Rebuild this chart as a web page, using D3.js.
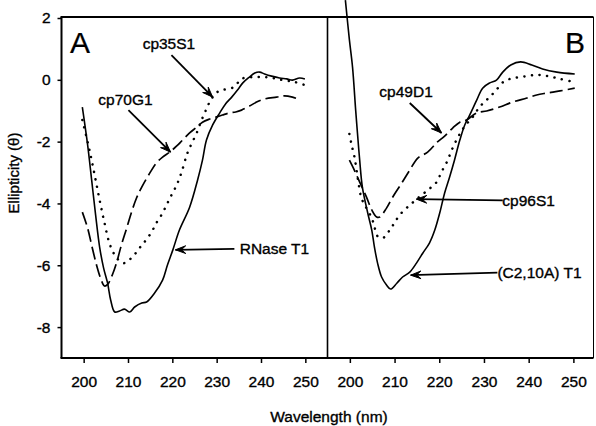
<!DOCTYPE html>
<html>
<head>
<meta charset="utf-8">
<script src="https://cdn.jsdelivr.net/npm/d3@7"></script>
<style>
  body { margin: 0; background: #fff; }
  text { font-family: "Liberation Sans", Arial, Helvetica, sans-serif; fill: #000; stroke: #000; stroke-width: 0.35px; }
</style>
</head>
<body>
<div id="chart"></div>
<script>
// tick labels
var wlTicks = [200, 210, 220, 230, 240, 250];
var ellTicks = [2, 0, -2, -4, -6, -8];

// panel A series [wavelength nm, ellipticity]
var rnaseT1 = [[199.7,-0.88],[200.9,-2.11],[201.8,-3.24],[202.7,-4.38],[203.6,-5.41],[204.5,-6.09],[205.4,-6.58],[206.1,-7.13],[207,-7.51],[208.1,-7.48],[209.2,-7.42],[210.4,-7.51],[211.5,-7.35],[213.1,-7.22],[214.2,-7.19],[216,-6.9],[217.8,-6.48],[218.9,-5.99],[220.1,-5.51],[221.6,-4.86],[223.9,-4.12],[225.7,-3.24],[226.8,-2.6],[227.7,-1.95],[229.1,-1.46],[230.7,-1.07],[232,-0.78],[233.4,-0.56],[234.7,-0.33],[235.9,-0.1],[237.4,0.09],[238.6,0.22],[239.7,0.25],[240.8,0.19],[242.4,0.12],[244.2,0.06],[245.8,0.03],[247.1,-0.01],[248.7,0.06],[249.9,0.03]];
var cp35S1 = [[199.7,-1.3],[200.9,-2.01],[201.8,-2.6],[202.7,-3.24],[203.6,-3.89],[204.7,-4.63],[205.8,-5.28],[207,-5.67],[208.1,-5.86],[209.2,-5.93],[211,-5.73],[212.6,-5.44],[213.7,-5.25],[215.3,-4.93],[216.4,-4.63],[217.8,-4.31],[218.7,-4.05],[219.8,-3.73],[221,-3.4],[222.1,-2.98],[223.4,-2.37],[224.4,-2.05],[225.5,-1.72],[226.4,-1.37],[227.3,-1.07],[228.2,-0.78],[229.1,-0.56],[230.2,-0.39],[231.3,-0.33],[233.4,-0.27],[234.5,-0.14],[235.6,0.03],[238.1,0.09],[240.4,0.09],[242.6,0.06],[244.9,-0.01],[247.6,-0.07],[249.9,-0.17]];
var cp70G1 = [[199.7,-4.28],[200.9,-4.8],[201.8,-5.35],[202.9,-5.99],[203.8,-6.41],[204.7,-6.67],[205.4,-6.62],[206.5,-6.3],[207.4,-5.93],[208.5,-5.35],[209.7,-4.8],[210.8,-4.28],[211.9,-3.83],[213.1,-3.47],[214.9,-3.02],[216.4,-2.69],[217.8,-2.5],[219.4,-2.34],[221,-2.14],[222.3,-1.95],[223.9,-1.72],[225.5,-1.53],[226.8,-1.37],[228.4,-1.27],[230,-1.2],[231.3,-1.14],[232.9,-1.07],[234.3,-1.04],[235.6,-0.98],[237.4,-0.85],[239,-0.72],[240.8,-0.62],[243.5,-0.56],[245.3,-0.52],[247.1,-0.56],[249,-0.65]];

// panel B series
var c210aT1 = [[199.0,2.58],[199.9,1.29],[200.6,0.41],[201.3,-0.98],[201.7,-1.72],[202.2,-2.6],[202.8,-3.47],[204,-4.31],[204.9,-4.86],[205.5,-5.41],[206.2,-5.93],[207.1,-6.38],[208.2,-6.64],[209.1,-6.77],[210.5,-6.58],[211.8,-6.38],[213.4,-6.22],[214.9,-5.93],[216.3,-5.61],[217.8,-5.28],[219,-4.86],[220.1,-4.31],[221.2,-3.66],[222.3,-3.15],[223.4,-2.6],[224.6,-1.95],[225.7,-1.46],[226.8,-1.14],[228.4,-0.65],[229.7,-0.27],[231.3,-0.1],[232.8,-0.01],[234.2,0.25],[236,0.48],[238.2,0.58],[240.7,0.48],[243.1,0.35],[246.3,0.25],[250.3,0.19]];
var cp96S1 = [[199.9,-1.75],[200.4,-2.11],[201,-2.47],[201.5,-2.92],[202,-3.4],[202.6,-3.83],[203.7,-4.15],[204.9,-4.47],[205.5,-4.76],[206.2,-5.06],[207.1,-5.12],[208,-5.06],[208.9,-4.86],[209.8,-4.67],[211.1,-4.38],[212.9,-4.12],[215.2,-3.83],[217.4,-3.57],[219.4,-3.31],[220.5,-2.98],[221.7,-2.66],[222.8,-2.27],[224.1,-1.88],[225.7,-1.5],[227.5,-1.2],[229,-0.88],[230.6,-0.65],[232.4,-0.39],[234.6,-0.04],[236.9,0.06],[239.6,0.12],[242,0.16],[244.3,0.12],[247,0.03],[249.2,-0.04]];
var cp49D1 = [[199.9,-2.6],[201,-2.92],[202.2,-3.31],[203.7,-3.79],[204.9,-4.21],[206,-4.44],[206.7,-4.44],[208.2,-4.15],[209.6,-3.79],[211.6,-3.34],[213.4,-2.92],[215.2,-2.53],[217.4,-2.34],[219.6,-2.01],[221.2,-1.82],[223,-1.56],[224.6,-1.37],[226.1,-1.3],[228.4,-1.07],[230.6,-1.01],[233.5,-0.88],[236.4,-0.72],[239.6,-0.59],[241.8,-0.49],[244,-0.43],[247,-0.36],[250.3,-0.27]];

// labels with arrow: text start, arrow tail, arrow tip (data units)
var notesA = [
  { text: "cp35S1", at: [213.3, 1.19], from: [219.8, 0.8], to: [229.1, -0.56] },
  { text: "cp70G1", at: [203.3, -0.65], from: [210.1, -0.98], to: [219.6, -2.34] },
  { text: "RNase T1", at: [235.2, -5.44], from: [234, -5.47], to: [220.7, -5.5] }
];
var notesB = [
  { text: "cp49D1", at: [206.6, -0.39], from: [213.4, -0.75], to: [220.5, -1.72] },
  { text: "cp96S1", at: [234.1, -3.9], from: [234.2, -3.9], to: [214.9, -3.86] },
  { text: "(C2,10A) T1", at: [233, -6.24], from: [233, -6.24], to: [213.6, -6.32] }
];

var width = 596, height = 426;
var svg = d3.select("#chart").append("svg")
    .attr("width", width)
    .attr("height", height);

var y = d3.scaleLinear().domain([-9, 2]).range([358, 18]);
var xA = d3.scaleLinear().domain([195, 255]).range([61.5, 327.5]);
var xB = d3.scaleLinear().domain([195, 254.5]).range([327.5, 593.5]);

var styles = {
  solid: { width: 1.6, dash: null, cap: "butt" },
  dashed: { width: 1.7, dash: "13,5", cap: "butt" },
  dotted: { width: 2.5, dash: "0.1,7.5", cap: "round" }
};

function drawPanel(x, series, notes, letter, letterX, leftAxis, rightEdge) {
  var g = svg.append("g");
  var x0 = x.range()[0], x1 = x.range()[1];

  // frame
  g.append("line").attr("x1", x0 - 1).attr("x2", x1).attr("y1", y(2) - 1).attr("y2", y(2) - 1)
    .attr("stroke", "#000").attr("stroke-width", 2);
  g.append("line").attr("x1", x0 - 1).attr("x2", x1).attr("y1", y(-9)).attr("y2", y(-9))
    .attr("stroke", "#000").attr("stroke-width", 2);
  if (leftAxis) {
    g.append("line").attr("x1", x0).attr("x2", x0).attr("y1", y(2) - 1).attr("y2", y(-9))
      .attr("stroke", "#000").attr("stroke-width", 2);
  }
  g.append("line").attr("x1", x1).attr("x2", x1).attr("y1", y(2) - 1).attr("y2", y(-9))
    .attr("stroke", "#000").attr("stroke-width", rightEdge);

  // x axis
  var ax = g.append("g").attr("transform", "translate(0," + y(-9) + ")")
    .call(d3.axisBottom(x).tickValues(wlTicks).tickSize(5).tickPadding(13).tickFormat(function(d) { return String(d); }));
  ax.select(".domain").remove();
  ax.selectAll("line").attr("stroke-width", 1.5);
  ax.selectAll("text").style("font-size", "15.5px");

  if (leftAxis) {
    var ay = g.append("g").attr("transform", "translate(" + x0 + ",0)")
      .call(d3.axisLeft(y).tickValues(ellTicks).tickSize(4).tickPadding(7).tickFormat(function(d) { return String(d); }));
    ay.select(".domain").remove();
    ay.selectAll("line").attr("stroke-width", 1.5);
    ay.selectAll("text").style("font-size", "15.5px");
  }

  var line = d3.line()
    .x(function(d) { return x(d[0]); })
    .y(function(d) { return y(d[1]); })
    .curve(d3.curveCatmullRom.alpha(0.5));

  series.forEach(function(s) {
    var st = styles[s.style];
    g.append("path")
      .attr("d", line(s.data))
      .attr("fill", "none")
      .attr("stroke", "#000")
      .attr("stroke-width", st.width)
      .attr("stroke-linecap", st.cap)
      .attr("stroke-linejoin", "round")
      .attr("stroke-dasharray", st.dash);
  });

  notes.forEach(function(n) {
    g.append("text")
      .attr("x", x(n.at[0]))
      .attr("y", y(n.at[1]))
      .attr("dy", "0.36em")
      .style("font-size", "15.5px")
      .text(n.text);
    var fx = x(n.from[0]), fy = y(n.from[1]), tx = x(n.to[0]), ty = y(n.to[1]);
    var ang = Math.atan2(ty - fy, tx - fx);
    var len = 11, spread = 0.36;
    g.append("line").attr("x1", fx).attr("y1", fy).attr("x2", tx).attr("y2", ty)
      .attr("stroke", "#000").attr("stroke-width", 1.8);
    g.append("path")
      .attr("d", "M" + (tx - len * Math.cos(ang - spread)) + "," + (ty - len * Math.sin(ang - spread)) +
        "L" + tx + "," + ty +
        "L" + (tx - len * Math.cos(ang + spread)) + "," + (ty - len * Math.sin(ang + spread)) +
        "L" + (tx - 6 * Math.cos(ang)) + "," + (ty - 6 * Math.sin(ang)) + "Z")
      .attr("fill", "#000").attr("stroke", "#000").attr("stroke-width", 1).attr("stroke-linejoin", "round");
  });

  g.append("text")
    .attr("x", letterX)
    .attr("y", 53)
    .style("font-size", "30px")
    .style("stroke-width", "0.2px")
    .text(letter);
}

drawPanel(xA, [
  { data: rnaseT1, style: "solid" },
  { data: cp35S1, style: "dotted" },
  { data: cp70G1, style: "dashed" }
], notesA, "A", 70, true, 1.6);

drawPanel(xB, [
  { data: c210aT1, style: "solid" },
  { data: cp96S1, style: "dotted" },
  { data: cp49D1, style: "dashed" }
], notesB, "B", 565, false, 1);

svg.append("text")
  .attr("x", 329)
  .attr("y", 422)
  .attr("text-anchor", "middle")
  .style("font-size", "15.5px")
  .text("Wavelength (nm)");

svg.append("text")
  .attr("transform", "translate(19,173) rotate(-90)")
  .attr("text-anchor", "middle")
  .style("font-size", "15px")
  .text("Ellipticity (θ)");
</script>
</body>
</html>
